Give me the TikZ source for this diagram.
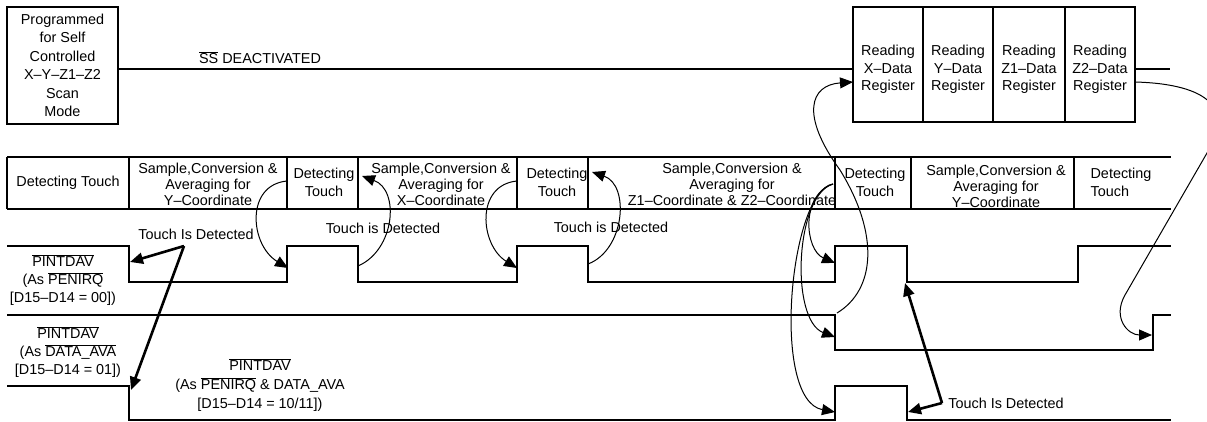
\documentclass[tikz,border=0pt]{standalone}
\usepackage{fontspec}
\setmainfont{Liberation Sans}
\usetikzlibrary{arrows.meta}
\newcommand{\barsig}[1]{$\overline{\mbox{#1}}$}

\begin{document}
\begin{tikzpicture}[x=1pt, y=-1pt,
  sig/.style={line width=2.6pt},
  txt/.style={font=\fontsize{14.4}{17.5}\selectfont, align=center, inner sep=0pt},
  tight/.style={font=\fontsize{14.4}{16}\selectfont},
  regbox/.style={draw, line width=2.6pt, minimum height=115pt, inner sep=0pt, outer sep=0pt, anchor=north west},
  swoop/.style={line width=1pt, -{Triangle[length=13pt, width=11pt]}},
  hit/.style={line width=2.6pt, -{Triangle[length=13pt, width=11pt]}}]
\useasboundingbox (0,0) rectangle (1207,421);

\node[draw, sig, txt, font=\fontsize{14.4}{18.5}\selectfont, outer sep=0pt,
  minimum width=111pt, minimum height=117pt] (mode) at (62.5,65.5)
  {Programmed\\for Self\\Controlled\\X--Y--Z1--Z2\\Scan\\Mode};

\node[regbox, minimum width=70pt] (rx) at (853,7) {};
\node[regbox, minimum width=70pt] (ry) at (rx.north east) {};
\node[regbox, minimum width=72pt] (rzi) at (ry.north east) {};
\node[regbox, minimum width=70pt] (rzii) at (rzi.north east) {};
\node[txt] (rxt) at ([yshift=-5pt]rx.center) {Reading\\X--Data\\Register};
\node[txt] (ryt) at ([yshift=-5pt]ry.center) {Reading\\Y--Data\\Register};
\node[txt] (rzit) at ([yshift=-5pt]rzi.center) {Reading\\Z1--Data\\Register};
\node[txt] (rziit) at ([yshift=-5pt]rzii.center) {Reading\\Z2--Data\\Register};

\coordinate (ssy) at (0,69);
\coordinate (ssend) at (1170,69);
\draw[sig] (mode.east |- ssy) -- (rx.west |- ssy);
\draw[sig] (rzii.east |- ssy) -- (ssend);
\node[txt] (ss) at (260,58) {\barsig{SS} DEACTIVATED};

\draw[sig] (7,157) -- (1171,157) (7,209) -- (1171,209);
\foreach \x in {7,129,287,358,517,588,835,911,1074}
  \draw[sig] (\x,157) -- (\x,209);
\node[txt] (ci) at (68,183) {Detecting Touch};
\node[txt, tight] (cii) at (208,184) {Sample,Conversion \&\\Averaging for\\Y--Coordinate};
\node[txt] (ciii) at (324,182.5) {Detecting\\Touch};
\node[txt, tight] (civ) at (441,184) {Sample,Conversion \&\\Averaging for\\X--Coordinate};
\node[txt] (cv) at (557,182.5) {Detecting\\Touch};
\node[txt, tight] (cvi) at (732,184) {Sample,Conversion \&\\Averaging for\\Z1--Coordinate \& Z2--Coordinate};
\node[txt] (cvii) at (875,182.5) {Detecting\\Touch};
\node[txt, tight] (cviii) at (996,186) {Sample,Conversion \&\\Averaging for\\Y--Coordinate};
\node[txt, align=left] (cix) at (1121,182.5) {Detecting\\Touch};

\draw[sig] (7,246) -- (129,246) -- (129,282) -- (287,282) -- (287,246) -- (358,246)
  -- (358,282) -- (517,282) -- (517,246) -- (588,246) -- (588,282) -- (835,282)
  -- (835,246) -- (907,246) -- (907,282) -- (1078,282) -- (1078,246) -- (1171,246);
\draw[sig] (7,315) -- (835,315) -- (835,350) -- (1153,350) -- (1153,315) -- (1171,315);
\draw[sig] (7,386) -- (129,386) -- (129,420) -- (835,420) -- (835,386) -- (907,386)
  -- (907,420) -- (1171,420);

\node[txt, font=\fontsize{14.4}{18}\selectfont] (wi) at (63,280)
  {\barsig{PINTDAV}\\(As \barsig{PENIRQ}\\{[D15--D14 = 00])}};
\node[txt, font=\fontsize{14.4}{18}\selectfont] (wii) at (68,352)
  {\barsig{PINTDAV}\\(As \barsig{DATA\_AVA}\\{[D15--D14 = 01])}};
\node[txt, font=\fontsize{14.4}{19}\selectfont] (wiii) at (260,385)
  {\barsig{PINTDAV}\\(As \barsig{PENIRQ} \& DATA\_AVA\\{[D15--D14 = 10/11])}};

\node[txt] (ti) at (196,234) {Touch Is Detected};
\node[txt] (tii) at (383,228) {Touch is Detected};
\node[txt] (tiii) at (611,227) {Touch is Detected};
\node[txt] (tiv) at (1006,403) {Touch Is Detected};

\coordinate (hi) at (184,246);
\coordinate (hia) at (130,262);
\coordinate (hib) at (131,390);
\draw[hit] (hi) -- (hia);
\draw[hit] (hi) -- (hib);
\coordinate (hiv) at (942,403);
\coordinate (hiva) at (905,283);
\coordinate (hivb) at (908,412);
\draw[hit] (hiv) -- (hiva);
\draw[hit] (hiv) -- (hivb);

\coordinate (yend) at (287,181);
\coordinate (xend) at (517,181);
\coordinate (zend) at (833,184);
\draw[swoop] (yend) .. controls (245,185) and (250,245) .. (288,268);
\draw[swoop] (358,266) .. controls (395,250) and (400,190) .. (362,176);
\draw[swoop] (xend) .. controls (475,185) and (480,245) .. (517,268);
\draw[swoop] (588,264) .. controls (625,250) and (630,185) .. (592,172);
\draw[swoop] (zend) .. controls (800,195) and (805,250) .. (835,263);
\draw[swoop] (zend) .. controls (795,195) and (790,320) .. (835,337);
\draw[swoop] (zend) .. controls (790,190) and (770,400) .. (835,412);
\draw[swoop] (837,313) .. controls (875,290) and (880,235) .. (840,170)
  .. controls (800,115) and (810,85) .. (rx.west |- 0,82);
\draw[swoop] (rzii.east |- 0,82) .. controls (1210,84) and (1235,110) .. (1207,153)
  -- (1125,295) .. controls (1112,318) and (1128,335) .. (1152,335);
\end{tikzpicture}
\end{document}
